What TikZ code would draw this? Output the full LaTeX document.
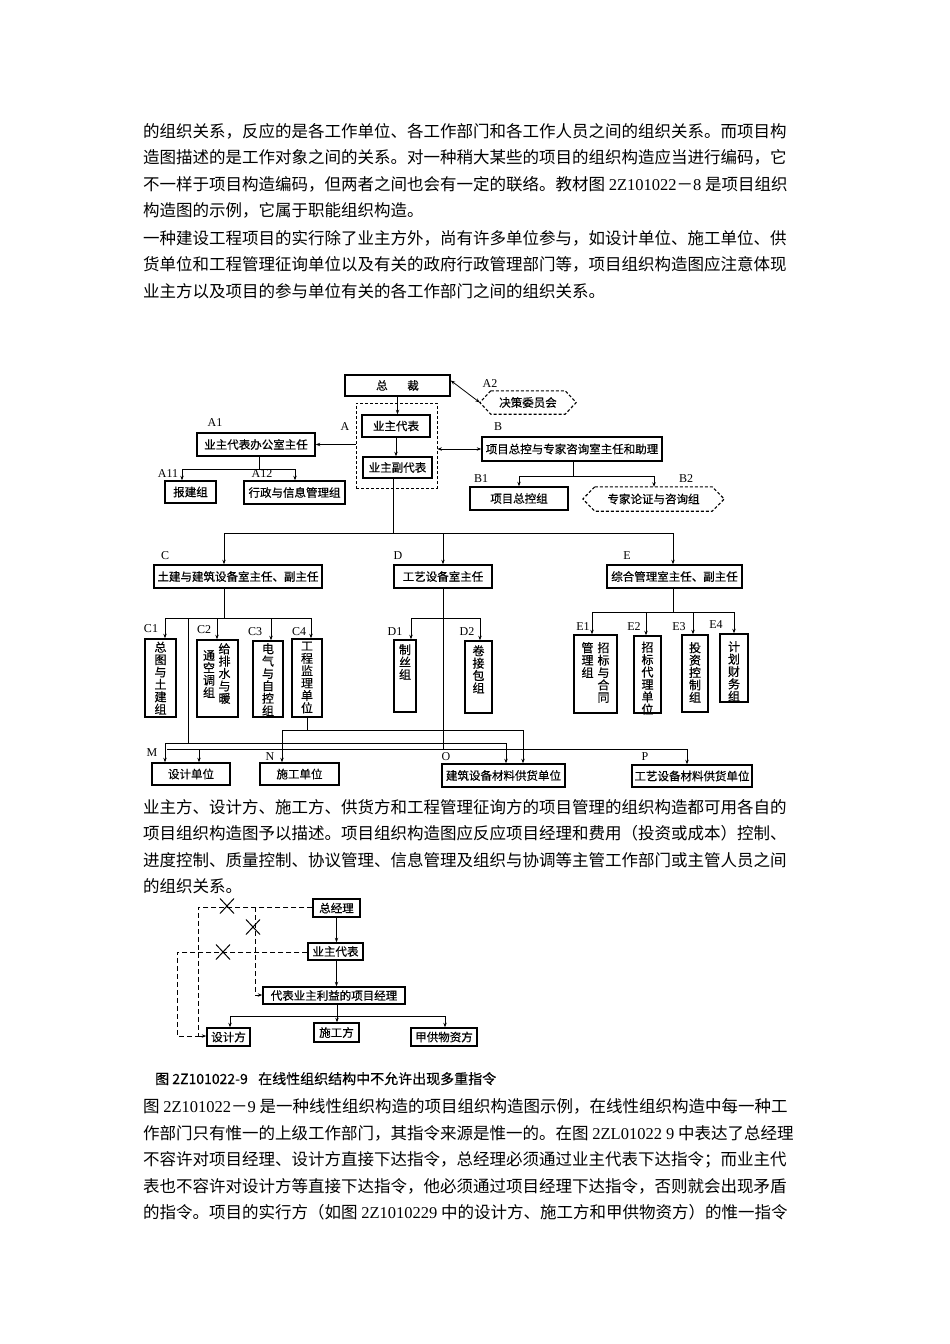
\documentclass[tikz,border=0pt]{standalone}
\usepackage{fontspec}
\setmainfont{Liberation Serif}
\newfontfamily\cjk{Noto Sans CJK SC}
\newfontfamily\cjkd{Noto Sans CJK SC}[FakeBold=0.45]
\newfontfamily\lat{Liberation Serif}
\usetikzlibrary{arrows.meta}
\XeTeXlinebreaklocale "zh"
\XeTeXlinebreakskip=0pt plus 2pt
\newcommand\bodyfont{\cjk\fontsize{16.5}{26.6}\selectfont}
\newcommand\dfont{\cjkd\fontsize{11.5}{12}\selectfont}
\newcommand\vfont{\cjkd\fontsize{12}{12.4}\selectfont}
\newcommand\lfont{\lat\fontsize{12}{12}\selectfont}
\newcommand\capfont{\cjkd\fontsize{14}{14}\selectfont}
\tikzset{
  txt/.style={anchor=base west, inner sep=0pt, text width=665pt, align=justify, font=\bodyfont},
  bx/.style={draw, line width=1.5pt, inner sep=0pt, font=\dfont},
  ln/.style={line width=0.8pt},
  arr/.style={ln, -{Stealth[length=4.5pt,width=3.4pt]}},
  darr/.style={ln, {Stealth[length=4.5pt,width=3.4pt]}-{Stealth[length=4.5pt,width=3.4pt]}},
  lab/.style={font=\lfont, inner sep=0pt},
  vt/.style={font=\vfont, align=center, inner sep=0pt, anchor=north},
  hexbody/.style={inner sep=0pt, font=\dfont},
  hexline/.style={line width=1.1pt, dash pattern=on 3pt off 2pt},
  dsh/.style={line width=0.8pt, dash pattern=on 5pt off 3pt},
  xm/.style={line width=1pt},
}
\begin{document}
\begin{tikzpicture}[x=1pt,y=-1pt]
\useasboundingbox[fill=white] (0,0) rectangle (950,1344);

% ---------------- body text, block 1 ----------------
\node[txt] (t1) at (143,137) {\parfillskip=0pt 的组织关系，反应的是各工作单位、各工作部门和各工作人员之间的组织关系。而项目构};
\node[txt] (t2) at (143,163.5) {\parfillskip=0pt 造图描述的是工作对象之间的关系。对一种稍大某些的项目的组织构造应当进行编码，它};
\node[txt] (t3) at (143,190) {\parfillskip=0pt 不一样于项目构造编码，但两者之间也会有一定的联络。教材图 {\lat 2Z101022}－{\lat 8} 是项目组织};
\node[txt] (t4) at (143,216.5) {构造图的示例，它属于职能组织构造。};
\node[txt] (t5) at (143,244) {\parfillskip=0pt 一种建设工程项目的实行除了业主方外，尚有许多单位参与，如设计单位、施工单位、供};
\node[txt] (t6) at (143,270.5) {\parfillskip=0pt 货单位和工程管理征询单位以及有关的政府行政管理部门等，项目组织构造图应注意体现};
\node[txt] (t7) at (143,297) {业主方以及项目的参与单位有关的各工作部门之间的组织关系。};

% ---------------- diagram 1 ----------------
\node[bx, minimum width=105, minimum height=21] (zc) at (397.5,385.5) {总\hspace{1.7em}裁};
\node[draw, line width=0.8pt, dash pattern=on 3pt off 2pt, minimum width=81, minimum height=85, inner sep=0pt] (grpA) at (396.5,445.5) {};
\node[bx, minimum width=68, minimum height=22] (yzdb) at (396,426) {业主代表};
\node[bx, minimum width=69, minimum height=21] (yzfdb) at (397.5,467.5) {业主副代表};
\draw[arr] (zc.south) -- (zc.south |- yzdb.north);
\draw[arr] (yzdb.south) -- (yzdb.south |- yzfdb.north);

% A2 hexagon
\node[hexbody, minimum width=74, minimum height=23] (a2) at (528,402.5) {决策委员会};
\draw[hexline] (a2.north west) -- (a2.north east) -- ([xshift=11pt]a2.east) -- (a2.south east) -- (a2.south west) -- ([xshift=-11pt]a2.west) -- cycle;
\coordinate (a2w) at ([xshift=-11pt]a2.west);
\draw[darr] ([yshift=5pt]zc.east) -- (a2w);
\node[lab] (la2) at (490,384) {A2};

% A1 branch
\node[bx, minimum width=118, minimum height=23] (a1) at (256,444.5) {业主代表办公室主任};
\draw[arr] (grpA.west |- a1.east) -- (a1.east);
\node[bx, minimum width=51, minimum height=22] (bjz) at (190.5,492) {报建组};
\node[bx, minimum width=101, minimum height=23] (xz) at (294.5,492.5) {行政与信息管理组};
\coordinate (a1j) at (259,469);
\coordinate (a11j) at (182,469);
\coordinate (a12j) at (295,469);
\draw[ln] (a1.south -| a1j) -- (a1j);
\draw[ln] (a11j) -- (a12j);
\draw[arr] (a11j) -- (a11j |- bjz.north);
\draw[arr] (a12j) -- (a12j |- xz.north);
\node[lab] (la1) at (215,423) {A1};
\node[lab] (la) at (345,427) {A};
\node[lab] (la11) at (168,474) {A11};
\node[lab] (la12) at (262,474) {A12};

% B branch
\node[bx, minimum width=180, minimum height=24] (bb) at (572,449) {项目总控与专家咨询室主任和助理};
\draw[darr] (grpA.east |- bb.west) -- (bb.west);
\node[bx, minimum width=98, minimum height=23] (zkz) at (519,498.5) {项目总控组};
\node[hexbody, minimum width=117, minimum height=24] (zjz) at (653.5,499) {专家论证与咨询组};
\draw[hexline] (zjz.north west) -- (zjz.north east) -- ([xshift=12pt]zjz.east) -- (zjz.south east) -- (zjz.south west) -- ([xshift=-12pt]zjz.west) -- cycle;
\coordinate (bj) at (573,476);
\coordinate (b1j) at (519,476);
\coordinate (b2j) at (654,476);
\draw[ln] (bb.south -| bj) -- (bj);
\draw[ln] (b1j) -- (b2j);
\draw[arr] (b1j) -- (b1j |- zkz.north);
\draw[arr] (b2j) -- (b2j |- zjz.north);
\node[lab] (lb) at (498,427) {B};
\node[lab] (lb1) at (481,479) {B1};
\node[lab] (lb2) at (686,479) {B2};

% main bus
\node[bx, minimum width=168, minimum height=23] (cb) at (238,576.5) {土建与建筑设备室主任、副主任};
\node[bx, minimum width=98, minimum height=23] (db) at (443,576.5) {工艺设备室主任};
\node[bx, minimum width=135, minimum height=23] (eb) at (674.5,576.5) {综合管理室主任、副主任};
\coordinate (busm) at (393,533);
\coordinate (busc) at (224,533);
\coordinate (buse) at (673,533);
\draw[ln] (yzfdb.south -| busm) -- (busm);
\draw[ln] (busc) -- (buse);
\draw[arr] (busc) -- (busc |- cb.north);
\draw[arr] (db.north |- busm) -- (db.north);
\draw[arr] (buse) -- (buse |- eb.north);
\node[lab] (lc) at (165,556) {C};
\node[lab] (ld) at (398,556) {D};
\node[lab] (le) at (627,556) {E};

% C subtree
\node[bx, minimum width=31, minimum height=78] (c1) at (160.5,678) {};
\node[bx, minimum width=41, minimum height=77] (c2) at (217.5,678.5) {};
\node[bx, minimum width=30, minimum height=76] (c3) at (268,679) {};
\node[bx, minimum width=30, minimum height=78] (c4) at (307,678) {};
\node[vt] (c1t) at (160.5,641.5) {总\\图\\与\\土\\建\\组};
\node[vt] (c2r) at (224.5,643) {给\\排\\水\\与\\暖};
\node[vt] (c2l) at (209,650) {通\\空\\调\\组};
\node[vt] (c3t) at (268,643) {电\\气\\与\\自\\控\\组};
\node[vt] (c4t) at (307,641.5) {工\\程\\监\\理\\单\\位};
\coordinate (cj) at (224,618);
\coordinate (c1j) at (165,618);
\coordinate (c2j) at (217,618);
\coordinate (c3j) at (271,618);
\coordinate (c4j) at (311,618);
\draw[ln] (cb.south -| cj) -- (cj);
\draw[ln] (c1j) -- (c4j);
\draw[arr] (c1j) -- (c1j |- c1.north);
\draw[arr] (c2j) -- (c2j |- c2.north);
\draw[arr] (c3j) -- (c3j |- c3.north);
\draw[arr] (c4j) -- (c4j |- c4.north);
\node[lab] (lc1) at (151,629) {C1};
\node[lab] (lc2) at (204,630) {C2};
\node[lab] (lc3) at (255,632) {C3};
\node[lab] (lc4) at (299,632) {C4};

% D subtree
\node[bx, minimum width=22, minimum height=72] (d1) at (405,676) {};
\node[bx, minimum width=27, minimum height=72] (d2) at (478.5,677) {};
\node[vt] (d1t) at (405,644) {制\\丝\\组};
\node[vt] (d2t) at (478.5,645) {卷\\接\\包\\组};
\coordinate (d1j) at (411,618);
\coordinate (d2j) at (480,618);
\draw[ln] (d1j) -- (d2j);
\draw[arr] (d1j) -- (d1j |- d1.north);
\draw[arr] (d2j) -- (d2j |- d2.north);
\node[lab] (ld1) at (395,632) {D1};
\node[lab] (ld2) at (467,632) {D2};

% E subtree
\node[bx, minimum width=43, minimum height=78] (e1) at (595.5,674) {};
\node[bx, minimum width=27, minimum height=77] (e2) at (647.5,674.5) {};
\node[bx, minimum width=26, minimum height=77] (e3) at (695,673.5) {};
\node[bx, minimum width=28, minimum height=68] (e4) at (734,668) {};
\node[vt] (e1r) at (603.5,642) {招\\标\\与\\合\\同};
\node[vt] (e1l) at (587.5,642) {管\\理\\组};
\node[vt] (e2t) at (647.5,641.5) {招\\标\\代\\理\\单\\位};
\node[vt] (e3t) at (695,642) {投\\资\\控\\制\\组};
\node[vt] (e4t) at (734,641) {计\\划\\财\\务\\组};
\coordinate (ej) at (673,612);
\coordinate (e1j) at (592,612);
\coordinate (e2j) at (646,612);
\coordinate (e3j) at (693,612);
\coordinate (e4j) at (734,612);
\draw[ln] (eb.south -| ej) -- (ej);
\draw[ln] (e1j) -- (e4j);
\draw[arr] (e1j) -- (e1j |- e1.north);
\draw[arr] (e2j) -- (e2j |- e2.north);
\draw[arr] (e3j) -- (e3j |- e3.north);
\draw[arr] (e4j) -- (e4j |- e4.north);
\node[lab] (le1) at (583,627) {E1};
\node[lab] (le2) at (634,627) {E2};
\node[lab] (le3) at (679,627) {E3};
\node[lab] (le4) at (716,625) {E4};

% bottom units
\node[bx, minimum width=78, minimum height=22] (mb) at (191,774) {设计单位};
\node[bx, minimum width=79, minimum height=22] (nb) at (299.5,774) {施工单位};
\node[bx, minimum width=123, minimum height=23] (ob) at (503.5,775.5) {建筑设备材料供货单位};
\node[bx, minimum width=120, minimum height=22] (pb) at (692,776) {工艺设备材料供货单位};
\node[lab] (lm) at (152,753) {M};
\node[lab] (ln) at (270,757) {N};
\node[lab] (lo) at (446,757) {O};
\node[lab] (lp) at (645,757) {P};

% C -> M, O
\coordinate (cv) at (188,618);
\coordinate (cvb) at (188,743);
\coordinate (m1) at (165,743);
\coordinate (o1) at (506,743);
\draw[ln] (cv) -- (cvb);
\draw[ln] (m1) -- (o1);
\draw[arr] (m1) -- (m1 |- mb.north);
\draw[arr] (o1) -- (o1 |- ob.north);
% D -> M, P
\coordinate (dl) at (167,749);
\coordinate (m2) at (199,749);
\coordinate (pp) at (687,749);
\draw[ln] (db.south) -- (db.south |- pp);
\draw[ln] (dl) -- (pp);
\draw[arr] (m2) -- (m2 |- mb.north);
\draw[arr] (pp) -- (pp |- pb.north);
% C4 -> N, O
\coordinate (nn) at (282,730);
\coordinate (o2) at (523,730);
\draw[ln] (c4.south) -- (c4.south |- nn);
\draw[ln] (nn) -- (o2);
\draw[arr] (nn) -- (nn |- nb.north);
\draw[arr] (o2) -- (o2 |- ob.north);

% ---------------- body text, block 2 ----------------
\node[txt] (u1) at (143,813) {\parfillskip=0pt 业主方、设计方、施工方、供货方和工程管理征询方的项目管理的组织构造都可用各自的};
\node[txt] (u2) at (143,839.5) {\parfillskip=0pt 项目组织构造图予以描述。项目组织构造图应反应项目经理和费用（投资或成本）控制、};
\node[txt] (u3) at (143,866) {\parfillskip=0pt 进度控制、质量控制、协议管理、信息管理及组织与协调等主管工作部门或主管人员之间};
\node[txt] (u4) at (143,892.5) {的组织关系。};

% ---------------- diagram 2 ----------------
\node[bx, minimum width=47, minimum height=18] (zjl) at (336.5,908) {总经理};
\node[bx, minimum width=55, minimum height=17] (yz2) at (335.5,951.5) {业主代表};
\node[bx, minimum width=142, minimum height=17] (xmjl) at (334,995.5) {代表业主利益的项目经理};
\node[bx, minimum width=43, minimum height=18] (sjf) at (228.5,1037) {设计方};
\node[bx, minimum width=45, minimum height=19] (sgf) at (336.5,1032.5) {施工方};
\node[bx, minimum width=66, minimum height=18] (jgf) at (444,1037) {甲供物资方};
\draw[arr] (zjl.south) -- (zjl.south |- yz2.north);
\draw[arr] (zjl.south |- yz2.south) -- (zjl.south |- xmjl.north);
\coordinate (sj) at (337,1016);
\coordinate (sl) at (230,1016);
\coordinate (sr) at (445,1016);
\draw[ln] (xmjl.south -| sj) -- (sj);
\draw[ln] (sl) -- (sr);
\draw[arr] (sl) -- (sl |- sjf.north);
\draw[arr] (sj) -- (sj |- sgf.north);
\draw[arr] (sr) -- (sr |- jgf.north);
% dashed forbidden commands
\coordinate (q1) at (198,907);
\coordinate (q2) at (198,1036);
\coordinate (q3) at (255,907);
\coordinate (q4) at (255,995);
\coordinate (q5) at (177,952);
\coordinate (q6) at (177,1036);
\draw[dsh] (zjl.west |- q1) -- (q1) -- (q2);
\draw[dsh] (yz2.west |- q5) -- (q5) -- (q6) -- (q2);
\draw[dsh, -{Stealth[length=4.5pt,width=3.4pt]}] (q2) -- (sjf.west |- q2);
\draw[dsh, -{Stealth[length=4.5pt,width=3.4pt]}] (q3) -- (q4) -- (xmjl.west |- q4);
% crosses
\draw[xm] (220,898.5) -- (234,913.5) (220,913.5) -- (234,898.5);
\draw[xm] (246,919.5) -- (260,934.5) (246,934.5) -- (260,919.5);
\draw[xm] (216,944.5) -- (230,959.5) (216,959.5) -- (230,944.5);

% caption
\node[anchor=base west, inner sep=0pt, font=\capfont] (cap1) at (155,1084) {图 2Z101022-9};
\node[anchor=base west, inner sep=0pt, font=\capfont] (cap2) at (258,1084) {在线性组织结构中不允许出现多重指令};

% ---------------- body text, block 3 ----------------
\node[txt] (v1) at (143,1112) {\parfillskip=0pt 图 {\lat 2Z101022}－{\lat 9} 是一种线性组织构造的项目组织构造图示例，在线性组织构造中每一种工};
\node[txt] (v2) at (143,1139) {\parfillskip=0pt 作部门只有惟一的上级工作部门，其指令来源是惟一的。在图 {\lat 2ZL01022 9} 中表达了总经理};
\node[txt] (v3) at (143,1165.5) {\parfillskip=0pt 不容许对项目经理、设计方直接下达指令，总经理必须通过业主代表下达指令；而业主代};
\node[txt] (v4) at (143,1192) {\parfillskip=0pt 表也不容许对设计方等直接下达指令，他必须通过项目经理下达指令，否则就会出现矛盾};
\node[txt] (v5) at (143,1218.5) {\parfillskip=0pt 的指令。项目的实行方（如图 {\lat 2Z1010229} 中的设计方、施工方和甲供物资方）的惟一指令};
\end{tikzpicture}
\end{document}
